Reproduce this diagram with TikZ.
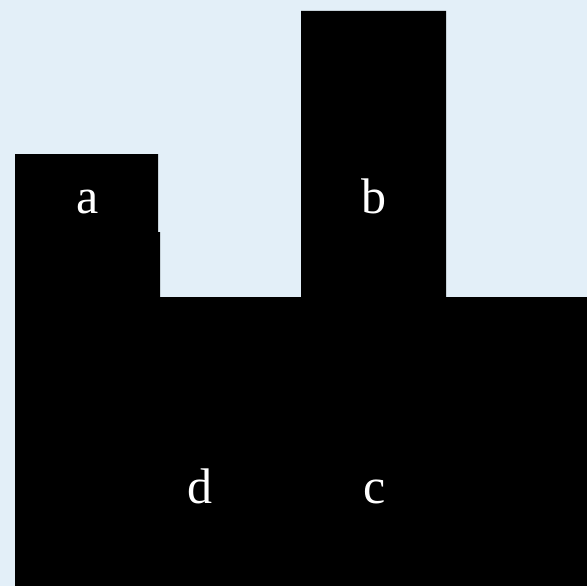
\documentclass[tikz,border=0pt]{standalone}
\usepackage{fontspec}
\setmainfont{Liberation Serif}
\usepackage{xcolor}
\definecolor{paleblue}{RGB}{227,239,248}

\begin{document}
\begin{tikzpicture}[x=1pt, y=-1pt, every node/.style={font=\fontsize{50}{60}\selectfont, text=white, inner sep=0pt, anchor=base}]
  \fill[paleblue] (0,0) rectangle (587,586);
  \useasboundingbox (0,0) rectangle (587,586);

  % the black blocks, drawn as one outline
  \fill[black] (15,154) -- (158,154) -- (158,232) -- (160,232) -- (160,297) -- (301,297)
    -- (301,11) -- (446,11) -- (446,297) -- (587,297) -- (587,586) -- (15,586) -- cycle;

  \node (la) at (88,213) {a};
  \node (lb) at (374,213) {b};
  \node (ld) at (200,503) {d};
  \node (lc) at (375,503) {c};
\end{tikzpicture}
\end{document}
